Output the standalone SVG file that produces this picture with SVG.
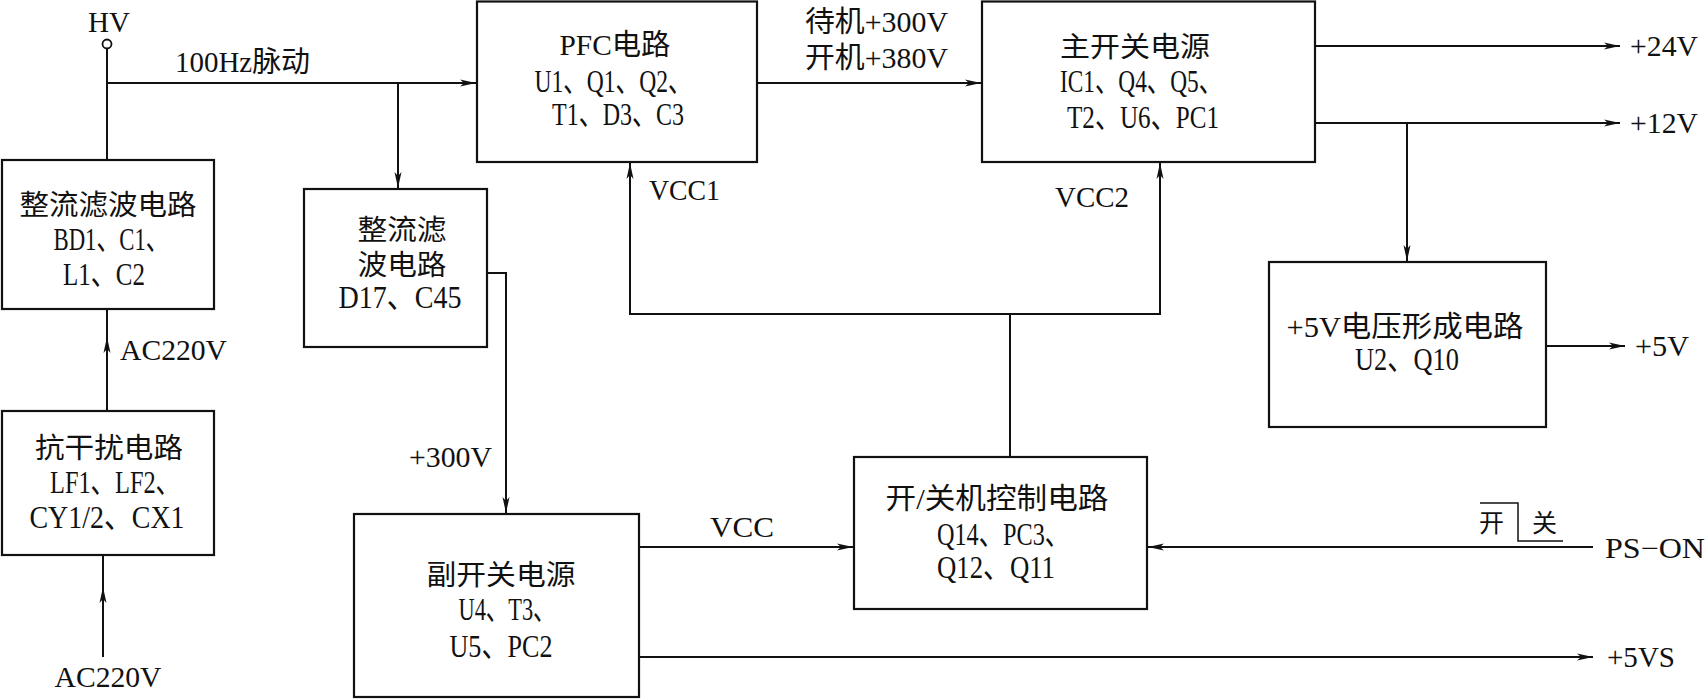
<svg xmlns="http://www.w3.org/2000/svg" width="1706" height="699" viewBox="0 0 1706 699">
<style>
.box{fill:#fff;stroke:#111;stroke-width:2.2}
.ln{fill:none;stroke:#111;stroke-width:2}
.t{font-family:"Liberation Serif","Noto Sans CJK SC",serif;font-size:29px;fill:#111}
.k{font-size:28px}
.m{font-size:32px}
.c{text-anchor:middle}
</style>
<defs>
<marker id="arr" markerUnits="userSpaceOnUse" markerWidth="18" markerHeight="10" viewBox="0 -5 18 10" refX="16" refY="0" orient="auto">
<path d="M0,-3.5 L16,0 L0,3.5 L4,0 Z" fill="#111"/>
</marker>
</defs>
<rect width="1706" height="699" fill="#fff"/>
<g id="connectors">
<circle cx="107" cy="44" r="4.5" fill="#fff" stroke="#111" stroke-width="1.8"/>
<line class="ln" x1="107" y1="48.5" x2="107" y2="160"/>
<line class="ln" x1="107" y1="83" x2="476" y2="83" marker-end="url(#arr)"/>
<line class="ln" x1="398" y1="83" x2="398" y2="188" marker-end="url(#arr)"/>
<polyline class="ln" points="487,273 506,273 506,513" marker-end="url(#arr)"/>
<line class="ln" x1="757" y1="83" x2="981" y2="83" marker-end="url(#arr)"/>
<line class="ln" x1="1315" y1="46" x2="1620" y2="46" marker-end="url(#arr)"/>
<line class="ln" x1="1315" y1="123" x2="1620" y2="123" marker-end="url(#arr)"/>
<line class="ln" x1="1407" y1="123" x2="1407" y2="261" marker-end="url(#arr)"/>
<line class="ln" x1="1546" y1="346" x2="1625" y2="346" marker-end="url(#arr)"/>
<line class="ln" x1="1010" y1="457" x2="1010" y2="314"/>
<line class="ln" x1="630" y1="314" x2="1160" y2="314"/>
<line class="ln" x1="630" y1="315" x2="630" y2="163" marker-end="url(#arr)"/>
<line class="ln" x1="1160" y1="315" x2="1160" y2="163" marker-end="url(#arr)"/>
<line class="ln" x1="639" y1="547" x2="853" y2="547" marker-end="url(#arr)"/>
<line class="ln" x1="1593" y1="547" x2="1148" y2="547" marker-end="url(#arr)"/>
<line class="ln" x1="639" y1="657" x2="1593" y2="657" marker-end="url(#arr)"/>
<line class="ln" x1="107" y1="411" x2="107" y2="337" marker-end="url(#arr)"/>
<line class="ln" x1="107" y1="338" x2="107" y2="309"/>
<line class="ln" x1="103" y1="657" x2="103" y2="587" marker-end="url(#arr)"/>
<line class="ln" x1="103" y1="588" x2="103" y2="555"/>
<polyline fill="none" stroke="#111" stroke-width="1.5" points="1480,503 1518,503 1518,541 1563,541"/>
</g>
<g id="labels">
<text class="t c" x="109" y="32" textLength="42" lengthAdjust="spacingAndGlyphs">HV</text>
<text class="t" x="175" y="72" textLength="135" lengthAdjust="spacingAndGlyphs">100Hz脉动</text>
<text class="t" x="805" y="32" textLength="143" lengthAdjust="spacingAndGlyphs">待机+300V</text>
<text class="t" x="805" y="68" textLength="143" lengthAdjust="spacingAndGlyphs">开机+380V</text>
<text class="t" x="1630" y="56" textLength="68" lengthAdjust="spacingAndGlyphs">+24V</text>
<text class="t" x="1630" y="133" textLength="68" lengthAdjust="spacingAndGlyphs">+12V</text>
<text class="t" x="649" y="200" textLength="71" lengthAdjust="spacingAndGlyphs">VCC1</text>
<text class="t" x="1055" y="207" textLength="74" lengthAdjust="spacingAndGlyphs">VCC2</text>
<text class="t" x="1635" y="356" textLength="54" lengthAdjust="spacingAndGlyphs">+5V</text>
<text class="t" x="120" y="360" textLength="107" lengthAdjust="spacingAndGlyphs">AC220V</text>
<text class="t c" x="108" y="687" textLength="107" lengthAdjust="spacingAndGlyphs">AC220V</text>
<text class="t" x="409" y="467" textLength="83" lengthAdjust="spacingAndGlyphs">+300V</text>
<text class="t" x="710" y="537" textLength="64" lengthAdjust="spacingAndGlyphs">VCC</text>
<text class="t" x="1605" y="558" textLength="100" lengthAdjust="spacingAndGlyphs">PS−ON</text>
<text class="t" x="1607" y="667" textLength="68" lengthAdjust="spacingAndGlyphs">+5VS</text>
<text class="t" x="1479" y="532" style="font-size:25px">开</text>
<text class="t" x="1532" y="532" style="font-size:25px">关</text>
</g>
<g id="rect-filter1">
<rect class="box" x="2" y="160" width="212" height="149"/>
<text class="t k c" x="108" y="215" textLength="177" lengthAdjust="spacingAndGlyphs">整流滤波电路</text>
<text class="t m c" x="111" y="250" textLength="115" lengthAdjust="spacingAndGlyphs">BD1、C1、</text>
<text class="t m c" x="104" y="285" textLength="82" lengthAdjust="spacingAndGlyphs">L1、C2</text>
</g>
<g id="rect-filter2">
<rect class="box" x="304" y="189" width="183" height="158"/>
<text class="t k c" x="402" y="240" textLength="89" lengthAdjust="spacingAndGlyphs">整流滤</text>
<text class="t k c" x="402" y="275" textLength="89" lengthAdjust="spacingAndGlyphs">波电路</text>
<text class="t m c" x="400" y="308" textLength="123" lengthAdjust="spacingAndGlyphs">D17、C45</text>
</g>
<g id="pfc">
<rect class="box" x="477" y="1.5" width="280" height="160.5"/>
<text class="t c" x="615" y="55" textLength="111" lengthAdjust="spacingAndGlyphs">PFC电路</text>
<text class="t m c" x="613" y="92" textLength="157" lengthAdjust="spacingAndGlyphs">U1、Q1、Q2、</text>
<text class="t m c" x="618" y="125" textLength="132" lengthAdjust="spacingAndGlyphs">T1、D3、C3</text>
</g>
<g id="main-smps">
<rect class="box" x="982" y="1.5" width="333" height="160.5"/>
<text class="t k c" x="1135" y="57" textLength="150" lengthAdjust="spacingAndGlyphs">主开关电源</text>
<text class="t m c" x="1141" y="92" textLength="162" lengthAdjust="spacingAndGlyphs">IC1、Q4、Q5、</text>
<text class="t m c" x="1143" y="128" textLength="152" lengthAdjust="spacingAndGlyphs">T2、U6、PC1</text>
</g>
<g id="v5">
<rect class="box" x="1269" y="262" width="277" height="165"/>
<text class="t c" x="1405" y="337" textLength="237" lengthAdjust="spacingAndGlyphs">+5V电压形成电路</text>
<text class="t m c" x="1407" y="370" textLength="104" lengthAdjust="spacingAndGlyphs">U2、Q10</text>
</g>
<g id="emi">
<rect class="box" x="2" y="411" width="212" height="144"/>
<text class="t k c" x="109" y="458" textLength="148" lengthAdjust="spacingAndGlyphs">抗干扰电路</text>
<text class="t m c" x="115" y="493" textLength="130" lengthAdjust="spacingAndGlyphs">LF1、LF2、</text>
<text class="t m c" x="107" y="528" textLength="155" lengthAdjust="spacingAndGlyphs">CY1/2、CX1</text>
</g>
<g id="aux-smps">
<rect class="box" x="354" y="514" width="285" height="183"/>
<text class="t k c" x="501" y="585" textLength="149" lengthAdjust="spacingAndGlyphs">副开关电源</text>
<text class="t m c" x="507" y="620" textLength="97" lengthAdjust="spacingAndGlyphs">U4、T3、</text>
<text class="t m c" x="501" y="657" textLength="103" lengthAdjust="spacingAndGlyphs">U5、PC2</text>
</g>
<g id="onoff">
<rect class="box" x="854" y="457" width="293" height="152"/>
<text class="t c" x="997" y="509" textLength="223" lengthAdjust="spacingAndGlyphs">开/关机控制电路</text>
<text class="t m c" x="1003" y="545" textLength="132" lengthAdjust="spacingAndGlyphs">Q14、PC3、</text>
<text class="t m c" x="996" y="578" textLength="118" lengthAdjust="spacingAndGlyphs">Q12、Q11</text>
</g>
</svg>
